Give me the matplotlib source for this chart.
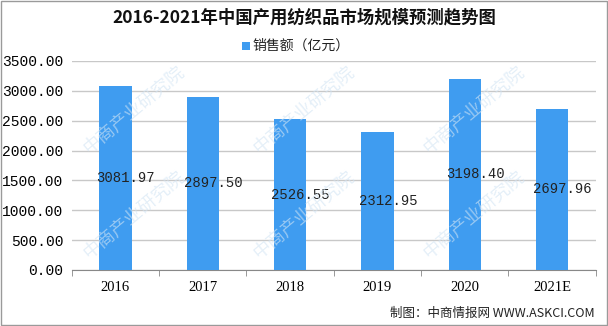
import matplotlib
matplotlib.use("Agg")
import matplotlib.pyplot as plt
from matplotlib.patches import Rectangle
import numpy as np

years = ["2016", "2017", "2018", "2019", "2020", "2021E"]
sales = [3081.97, 2897.50, 2526.55, 2312.95, 3198.40, 2697.96]
yticks = [0, 500, 1000, 1500, 2000, 2500, 3000, 3500]

BLUE = "#3F9CF0"
CJK = ["Noto Sans CJK SC", "DejaVu Sans"]
MONO = ["Liberation Mono", "DejaVu Sans Mono"]
SERIF = ["Liberation Serif", "DejaVu Serif"]

fig = plt.figure(figsize=(6.08, 3.26), dpi=100)
fig.patch.set_facecolor("white")
fig.add_artist(Rectangle((0.001, 0.002), 0.997, 0.995, transform=fig.transFigure,
                         fill=False, edgecolor="#9a9a9a", linewidth=1.0))

# faint diagonal watermark
for wx, wy in [(0.22, 0.66), (0.50, 0.66), (0.78, 0.66),
               (0.22, 0.34), (0.50, 0.34), (0.78, 0.34)]:
    fig.text(wx, wy, "中商产业研究院", family=CJK, fontsize=13, color="#d3e5f4",
             rotation=40, ha="center", va="center", alpha=0.6, zorder=0)

ax = fig.add_axes([0.118, 0.172, 0.862, 0.641])
ax.set_facecolor("none")
x = np.arange(len(years))
ax.bar(x, sales, width=0.37, color=BLUE, zorder=3)
for xi, v in zip(x, sales):
    ax.text(xi + 0.12, v / 2, f"{v:.2f}", ha="center", va="center",
            family=MONO, fontsize=10, color="#222222", zorder=4)

ax.set_xlim(-0.5, len(years) - 0.5)
ax.set_ylim(0, 3500)
ax.set_yticks(yticks)
ax.set_yticklabels([f"{t:.2f}" for t in yticks], family=MONO, fontsize=10.5)
ax.yaxis.grid(True, color="#c8c8c8", linewidth=1.0, zorder=0)
ax.tick_params(axis="y", length=0, pad=6)

ax.set_xticks(x)
ax.set_xticklabels(years, family=SERIF, fontsize=10.5)
ax.set_xticks(np.arange(-0.5, len(years)), minor=True)
ax.tick_params(axis="x", which="major", length=0, pad=8)
ax.tick_params(axis="x", which="minor", length=4, color="#888888", direction="out")

for side in ("left", "right", "top"):
    ax.spines[side].set_visible(False)
ax.spines["bottom"].set_color("#888888")

fig.text(0.5, 0.945, "2016-2021年中国产用纺织品市场规模预测趋势图", ha="center", va="center",
         family=["Noto Sans CJK SC", "DejaVu Serif"], fontsize=12.5, fontweight="bold", color="#111111")

fig.add_artist(Rectangle((0.398, 0.847), 0.013, 0.024, transform=fig.transFigure,
                         facecolor=BLUE, edgecolor="none"))
fig.text(0.416, 0.860, "销售额（亿元）", ha="left", va="center", family=CJK,
         fontsize=10, color="#222222")

fig.text(0.978, 0.040, "制图：中商情报网 WWW.ASKCI.COM", ha="right", va="center",
         family=["Noto Sans CJK SC", "DejaVu Sans Mono"], fontsize=9, color="#222222")

fig.savefig("out.png", dpi=100)
